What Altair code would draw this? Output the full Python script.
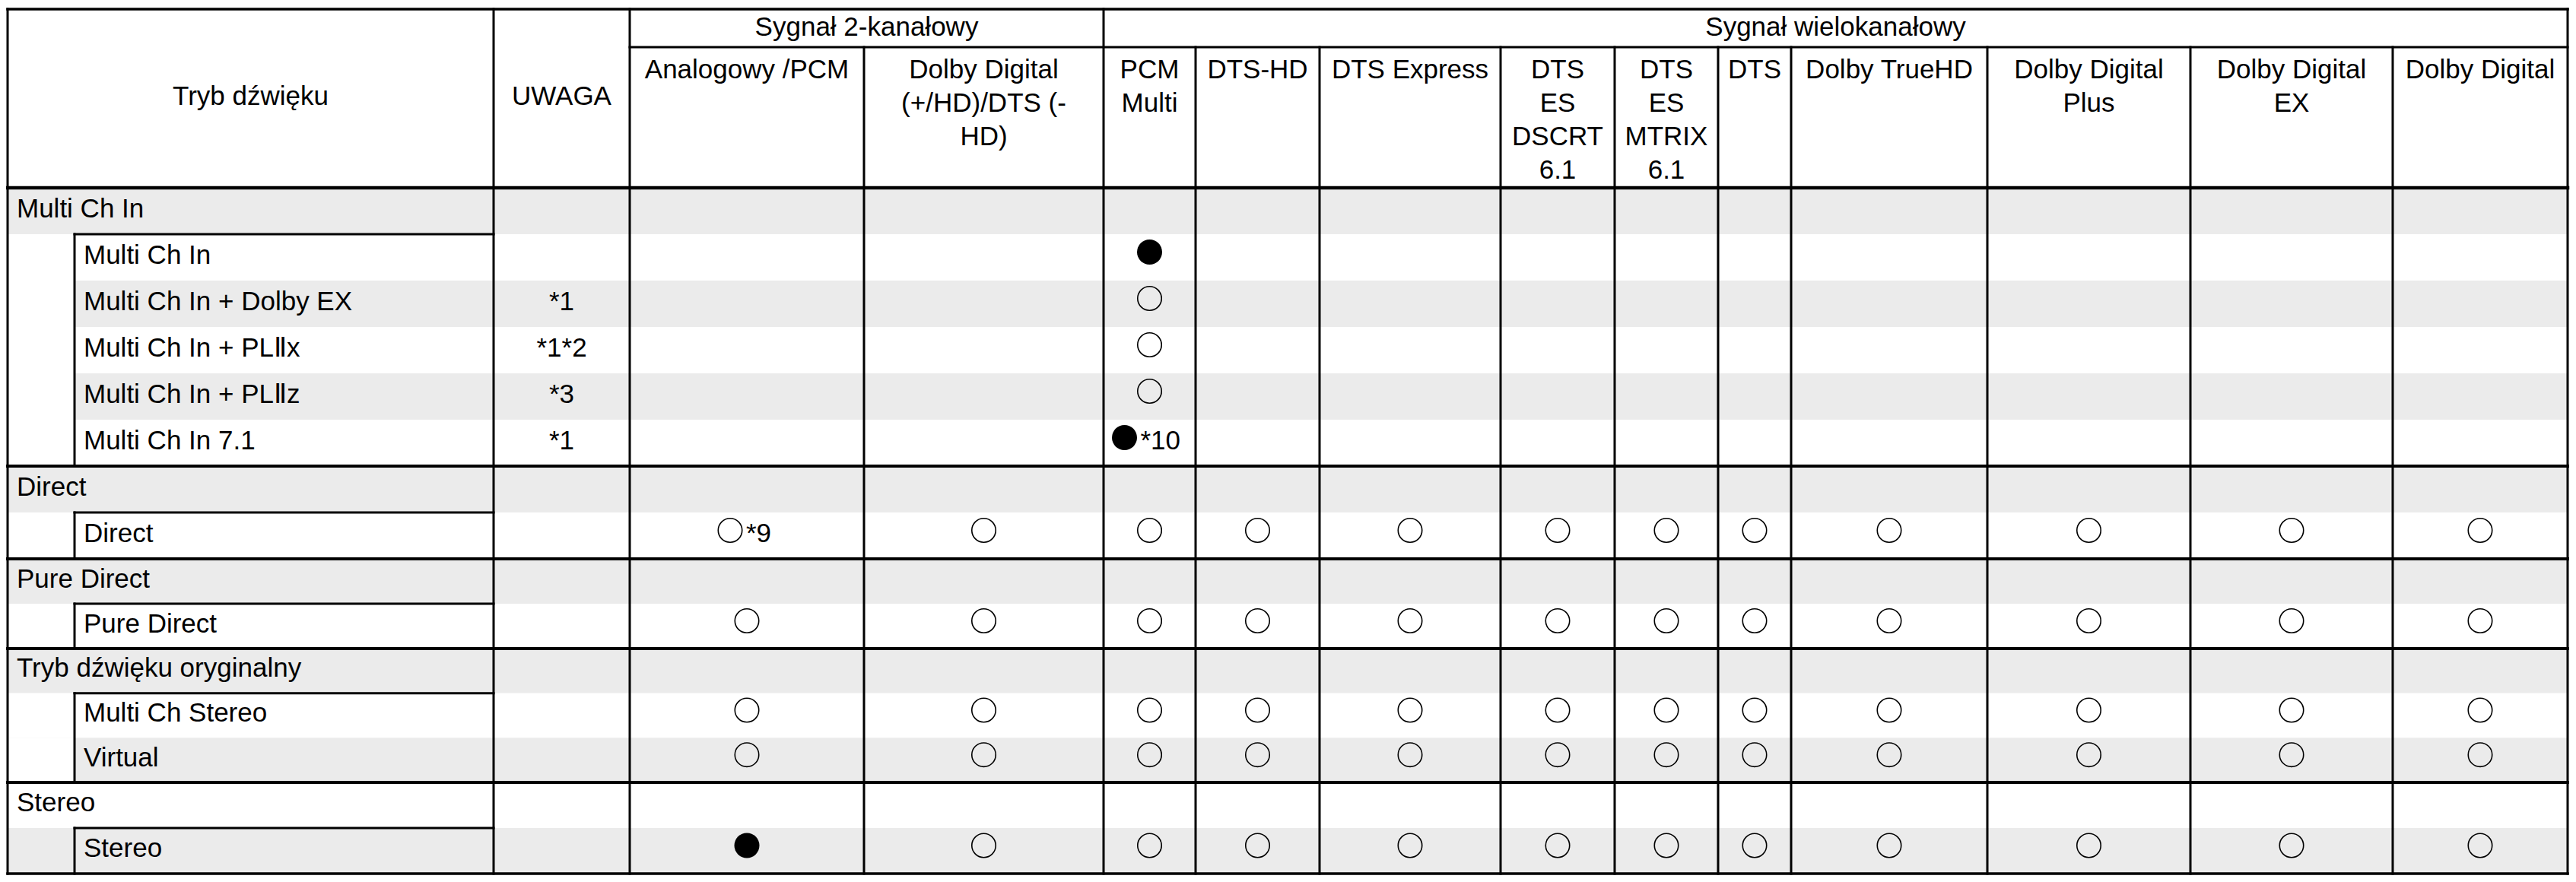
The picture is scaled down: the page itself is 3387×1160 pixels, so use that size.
import altair as alt
import pandas as pd

# ---------------- data ----------------
HEAD_MODE = "Tryb dźwięku"
HEAD_NOTE = "UWAGA"
GROUP_HEADERS = ["Sygnał 2-kanałowy", "Sygnał wielokanałowy"]
GROUP_SPANS = [2, 10]          # signal columns under each group header
SIGNALS = [
    "Analogowy /PCM",
    "Dolby Digital\n(+/HD)/DTS (-\nHD)",
    "PCM\nMulti",
    "DTS-HD",
    "DTS Express",
    "DTS\nES\nDSCRT\n6.1",
    "DTS\nES\nMTRIX\n6.1",
    "DTS",
    "Dolby TrueHD",
    "Dolby Digital\nPlus",
    "Dolby Digital\nEX",
    "Dolby Digital",
]
MODES = [
    "Multi Ch In", "Multi Ch In", "Multi Ch In + Dolby EX", "Multi Ch In + PLⅡx",
    "Multi Ch In + PLⅡz", "Multi Ch In 7.1",
    "Direct", "Direct",
    "Pure Direct", "Pure Direct",
    "Tryb dźwięku oryginalny", "Multi Ch Stereo", "Virtual",
    "Stereo", "Stereo",
]
IS_GROUP = [1, 0, 0, 0, 0, 0, 1, 0, 1, 0, 1, 0, 0, 1, 0]
UWAGA = ["", "", "*1", "*1*2", "*3", "*1", "", "", "", "", "", "", "", "", ""]
# one character per signal column: f = filled circle, o = open circle, . = empty
CELLS = [
    "............",
    "..f.........",
    "..o.........",
    "..o.........",
    "..o.........",
    "..f.........",
    "............",
    "oooooooooooo",
    "............",
    "oooooooooooo",
    "............",
    "oooooooooooo",
    "oooooooooooo",
    "............",
    "fooooooooooo",
]
NOTE_ROWS = [5, 7]
NOTE_COLS = [2, 0]
NOTE_TEXT = ["*10", "*9"]

# ---------------- layout ----------------
W, H = 3371, 1144
COL_W = [639, 179, 308, 315, 121, 163, 238, 150, 136, 96, 258, 267, 266, 230]
X0 = 2
Y_TOP, Y_MID, Y_HEAD = 4, 54, 239
ROW_H = [61] * 8 + [59] * 2 + [58.67] * 3 + [60] * 2
INDENT = 88
FONT = "Liberation Sans, Arial, Helvetica, sans-serif"
FS = 35
GRAY = "#ebebeb"
TXT_DY = 8

xe = [X0]
for w in COL_W:
    xe.append(xe[-1] + w)
ye = [Y_HEAD]
for h in ROW_H:
    ye.append(ye[-1] + h)
XR, YB = xe[-1], ye[-1]
ccx = [(xe[i] + xe[i + 1]) / 2 for i in range(len(COL_W))]
rcy = [(ye[i] + ye[i + 1]) / 2 for i in range(len(ROW_H))]

# group index for each row
grp_of = []
g = -1
for i, isg in enumerate(IS_GROUP):
    if isg:
        g = i
    grp_of.append(g)

# ---------------- backgrounds ----------------
bg = []
for i in range(len(ROW_H)):
    fill = GRAY if i % 2 == 0 else "#ffffff"
    bg.append(dict(x=X0, x2=XR, y=ye[i], y2=ye[i + 1], fill=fill))
    if not IS_GROUP[i]:
        gi = grp_of[i]
        ind = "#ffffff" if gi % 2 == 0 else GRAY
        bg.append(dict(x=X0, x2=X0 + INDENT, y=ye[i], y2=ye[i + 1], fill=ind))
bg = pd.DataFrame(bg)

# ---------------- lines ----------------
ln = []
ln.append(dict(x=X0, x2=XR, y=Y_TOP, y2=Y_TOP, w=3.5))
ln.append(dict(x=xe[2], x2=XR, y=Y_MID, y2=Y_MID, w=3))
ln.append(dict(x=X0, x2=XR, y=Y_HEAD, y2=Y_HEAD, w=4.5))
ln.append(dict(x=X0, x2=X0, y=Y_TOP, y2=YB, w=3))
ln.append(dict(x=XR, x2=XR, y=Y_TOP, y2=YB, w=3))
full_cols = {1, 2, 4}
for k in range(1, len(xe) - 1):
    ytop = Y_TOP if k in full_cols else Y_MID
    ln.append(dict(x=xe[k], x2=xe[k], y=ytop, y2=YB, w=3))
group_rows = [i for i, v in enumerate(IS_GROUP) if v]
for gi_n, gi in enumerate(group_rows):
    end = group_rows[gi_n + 1] if gi_n + 1 < len(group_rows) else len(ROW_H)
    if gi > 0:
        ln.append(dict(x=X0, x2=XR, y=ye[gi], y2=ye[gi], w=4))
    if end > gi + 1:
        ln.append(dict(x=X0 + INDENT, x2=xe[1], y=ye[gi + 1], y2=ye[gi + 1], w=3))
        ln.append(dict(x=X0 + INDENT, x2=X0 + INDENT, y=ye[gi + 1], y2=ye[end], w=3))
ln.append(dict(x=X0, x2=XR, y=YB, y2=YB, w=3.5))
ln = pd.DataFrame(ln)

# ---------------- texts ----------------
center_txt = [
    dict(x=ccx[0], y=130, t=HEAD_MODE),
    dict(x=ccx[1], y=130, t=HEAD_NOTE),
]
start = 2
for gh, span in zip(GROUP_HEADERS, GROUP_SPANS):
    center_txt.append(dict(x=(xe[start] + xe[start + span]) / 2, y=39, t=gh))
    start += span
for i, note in enumerate(UWAGA):
    if note:
        center_txt.append(dict(x=ccx[1], y=rcy[i] + TXT_DY, t=note))
center_txt = pd.DataFrame(center_txt)

sig_txt = pd.DataFrame([dict(x=ccx[k + 2], y=95, t=s) for k, s in enumerate(SIGNALS)])

left_txt = []
for i, m in enumerate(MODES):
    xx = X0 + 12 if IS_GROUP[i] else X0 + INDENT + 12
    left_txt.append(dict(x=xx, y=rcy[i] + TXT_DY, t=m))

# ---------------- symbols ----------------
pts = []
for i, row in enumerate(CELLS):
    for k, ch in enumerate(row):
        if ch == ".":
            continue
        note = ""
        for r, c, t in zip(NOTE_ROWS, NOTE_COLS, NOTE_TEXT):
            if r == i and c == k:
                note = t
        shift = 11 * len(note)
        px = ccx[k + 2] - shift
        pts.append(dict(x=px, y=rcy[i] - 7, kind=ch))
        if note:
            left_txt.append(dict(x=px + 21, y=rcy[i] + TXT_DY, t=note))
pts = pd.DataFrame(pts)
left_txt = pd.DataFrame(left_txt)

xs = alt.Scale(domain=[0, W], nice=False, zero=False)
ys = alt.Scale(domain=[0, H], nice=False, zero=False, reverse=True)

rects = alt.Chart(bg).mark_rect(strokeWidth=0).encode(
    x=alt.X("x:Q", scale=xs, axis=None), x2="x2:Q",
    y=alt.Y("y:Q", scale=ys, axis=None), y2="y2:Q",
    fill=alt.Fill("fill:N", scale=None),
)
rules = alt.Chart(ln).mark_rule(color="black", strokeCap="square").encode(
    x=alt.X("x:Q", scale=xs, axis=None), x2="x2:Q",
    y=alt.Y("y:Q", scale=ys, axis=None), y2="y2:Q",
    strokeWidth=alt.StrokeWidth("w:Q", scale=None),
)
tc = alt.Chart(center_txt).mark_text(
    font=FONT, fontSize=FS, align="center", baseline="alphabetic", color="black"
).encode(x=alt.X("x:Q", scale=xs, axis=None), y=alt.Y("y:Q", scale=ys, axis=None), text="t:N")
ts = alt.Chart(sig_txt).mark_text(
    font=FONT, fontSize=FS, align="center", baseline="alphabetic", color="black",
    lineBreak="\n", lineHeight=44,
).encode(x=alt.X("x:Q", scale=xs, axis=None), y=alt.Y("y:Q", scale=ys, axis=None), text="t:N")
tl = alt.Chart(left_txt).mark_text(
    font=FONT, fontSize=FS, align="left", baseline="alphabetic", color="black"
).encode(x=alt.X("x:Q", scale=xs, axis=None), y=alt.Y("y:Q", scale=ys, axis=None), text="t:N")
open_pts = alt.Chart(pts).transform_filter(alt.datum.kind == "o").mark_point(
    shape="circle", size=990, strokeWidth=1.6, color="black", filled=False, opacity=1
).encode(x=alt.X("x:Q", scale=xs, axis=None), y=alt.Y("y:Q", scale=ys, axis=None))
fill_pts = alt.Chart(pts).transform_filter(alt.datum.kind == "f").mark_point(
    shape="circle", size=1089, color="black", filled=True, opacity=1
).encode(x=alt.X("x:Q", scale=xs, axis=None), y=alt.Y("y:Q", scale=ys, axis=None))

chart = alt.layer(rects, rules, tc, ts, tl, open_pts, fill_pts).properties(
    width=W, height=H, padding=0, autosize="none", background="white"
).configure_view(stroke=None)

chart.save("out.html", embed_options={"renderer": "svg", "actions": False})
